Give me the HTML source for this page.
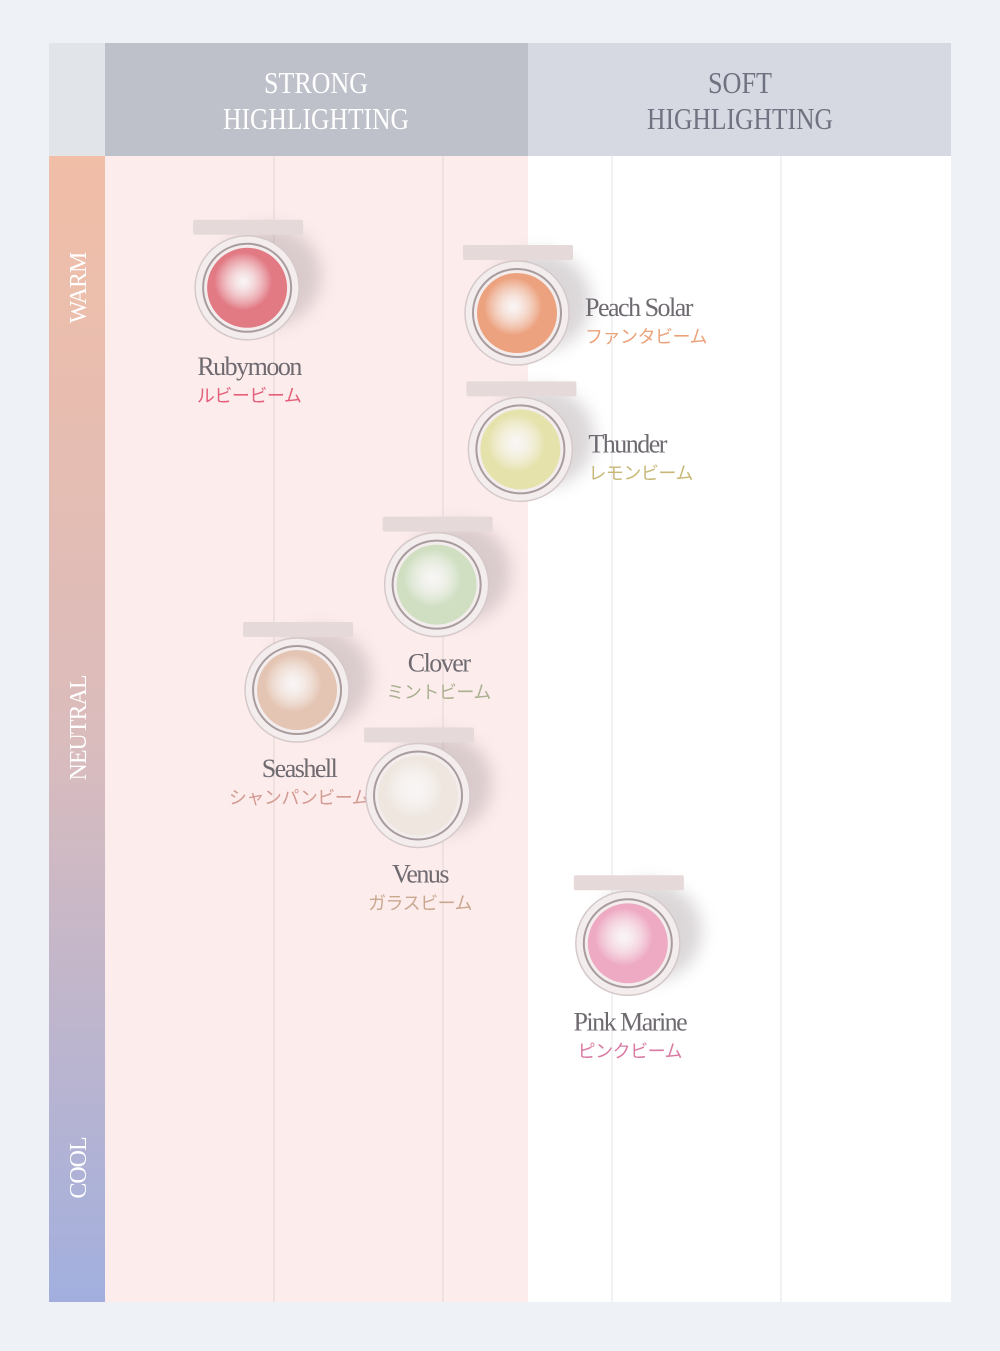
<!DOCTYPE html>
<html><head><meta charset="utf-8"><style>
body{margin:0;width:1000px;height:1351px;background:#eef1f6;overflow:hidden}
svg{display:block}
text{font-family:"Liberation Serif",serif}
.jp{font-family:"Liberation Sans","Noto Sans CJK JP",sans-serif}
</style></head><body>
<svg id="chart" width="1000" height="1351" viewBox="0 0 1000 1351">
<defs>
<linearGradient id="tone" x1="0" y1="0" x2="0" y2="1"><stop offset="0" stop-color="#f1bea7"/><stop offset="0.5" stop-color="#dbbcbc"/><stop offset="1" stop-color="#a2afde"/></linearGradient>
<filter id="blur" x="-50%" y="-50%" width="200%" height="200%"><feGaussianBlur stdDeviation="8"/></filter>
</defs>
<rect x="49" y="43" width="56" height="113" fill="#e1e4e8"/>
<rect x="105" y="43" width="423" height="113" fill="#bec1ca"/>
<rect x="528" y="43" width="423" height="113" fill="#d6d9e1"/>
<text fill="#fff" font-size="31" text-anchor="middle"><tspan x="316" y="93" textLength="104" lengthAdjust="spacingAndGlyphs">STRONG</tspan><tspan x="316" y="129" textLength="186" lengthAdjust="spacingAndGlyphs">HIGHLIGHTING</tspan></text>
<text fill="#6f7280" font-size="31" text-anchor="middle"><tspan x="740" y="93" textLength="64" lengthAdjust="spacingAndGlyphs">SOFT</tspan><tspan x="740" y="129" textLength="186" lengthAdjust="spacingAndGlyphs">HIGHLIGHTING</tspan></text>
<rect x="49" y="156" width="56" height="1146" fill="url(#tone)"/>
<rect x="105" y="156" width="423" height="1146" fill="#fdecec"/>
<rect x="528" y="156" width="423" height="1146" fill="#ffffff"/>
<g stroke="#e2d6d6" stroke-width="1">
<line x1="274" y1="156" x2="274" y2="1302"/><line x1="443" y1="156" x2="443" y2="1302"/>
<line x1="612" y1="156" x2="612" y2="1302" stroke="#e6e6ea"/><line x1="781" y1="156" x2="781" y2="1302" stroke="#e6e6ea"/>
</g>
<g fill="#fff" font-size="24" letter-spacing="-1" text-anchor="middle">
<text transform="translate(86,288) rotate(-90)">WARM</text>
<text transform="translate(86,728) rotate(-90)">NEUTRAL</text>
<text transform="translate(86,1168) rotate(-90)">COOL</text>
</g>
<g id="marks"></g>
</svg>
<script>
const names=["Rubymoon","Peach Solar","Thunder","Clover","Seashell","Venus","Pink Marine"];
const jpNames=["ルビービーム","ファンタビーム","レモンビーム","ミントビーム","シャンパンビーム","ガラスビーム","ピンクビーム"];
const strength=[16.8,48.7,49.1,39.2,22.7,37.0,61.8];
const warmth=[11.5,13.7,25.6,37.4,46.6,55.8,68.7];
const labelSide=["below","right","right","below","below","below","below"];
const panColors=["#e27a84","#eca27f","#e6e2ac","#d0dfc2","#e4c4b2","#eee6df","#eeaac3"];
const jpColors=["#e4607a","#eba27a","#c8b878","#aab090","#d29a90","#c9a890","#d97aa2"];
const sx=v=>105+v/100*846, sy=v=>156+v/100*1146;
const NS="http://www.w3.org/2000/svg", g=document.getElementById('marks');
function mk(t,a,p){const e=document.createElementNS(NS,t);for(const k in a)e.setAttribute(k,a[k]);(p||g).appendChild(e);return e;}
const defs=document.querySelector('defs');
names.forEach((n,i)=>{
 const cx=sx(strength[i]),cy=sy(warmth[i]);
 const rg=mk('radialGradient',{id:'pan'+i,cx:'0.45',cy:'0.42',r:'0.6'},defs);
 mk('stop',{offset:'0','stop-color':'#ffffff','stop-opacity':'0.45'},rg);
 mk('stop',{offset:'0.6','stop-color':panColors[i]},rg);
 mk('stop',{offset:'1','stop-color':panColors[i]},rg);
 const c=mk('g',{});
 
 
 mk('ellipse',{cx:cx+22,cy:cy-12,rx:52,ry:50,fill:'#9a8e92',opacity:0.35,filter:'url(#blur)'},c);
 mk('rect',{x:cx-54,y:cy-68,width:110,height:15,rx:2,fill:'#e5d9d9'},c);
 mk('circle',{cx:cx,cy:cy,r:52,fill:'#f3eded',stroke:'#d5c9ca','stroke-width':1.5},c);
 mk('circle',{cx:cx,cy:cy,r:44,fill:'none',stroke:'#a89c9e','stroke-width':2},c);
 mk('circle',{cx:cx,cy:cy,r:40,fill:'url(#pan'+i+')'},c);
 let lx,ly,anchor;
 if(labelSide[i]==='right'){lx=cx+68;ly=cy+3;anchor='start';}else{lx=cx+2;ly=cy+87;anchor='middle';}
 const t=mk('text',{x:lx,y:ly,'font-size':26,'letter-spacing':-1.5,fill:'#6e6a70','text-anchor':anchor});
 
 
 t.textContent=n;
 const j=mk('text',{x:lx,y:ly+27,'font-size':18,fill:jpColors[i],'text-anchor':anchor,'class':'jp','letter-spacing':-0.5});
 
 
 j.textContent=jpNames[i];
});
</script>
</body></html>
